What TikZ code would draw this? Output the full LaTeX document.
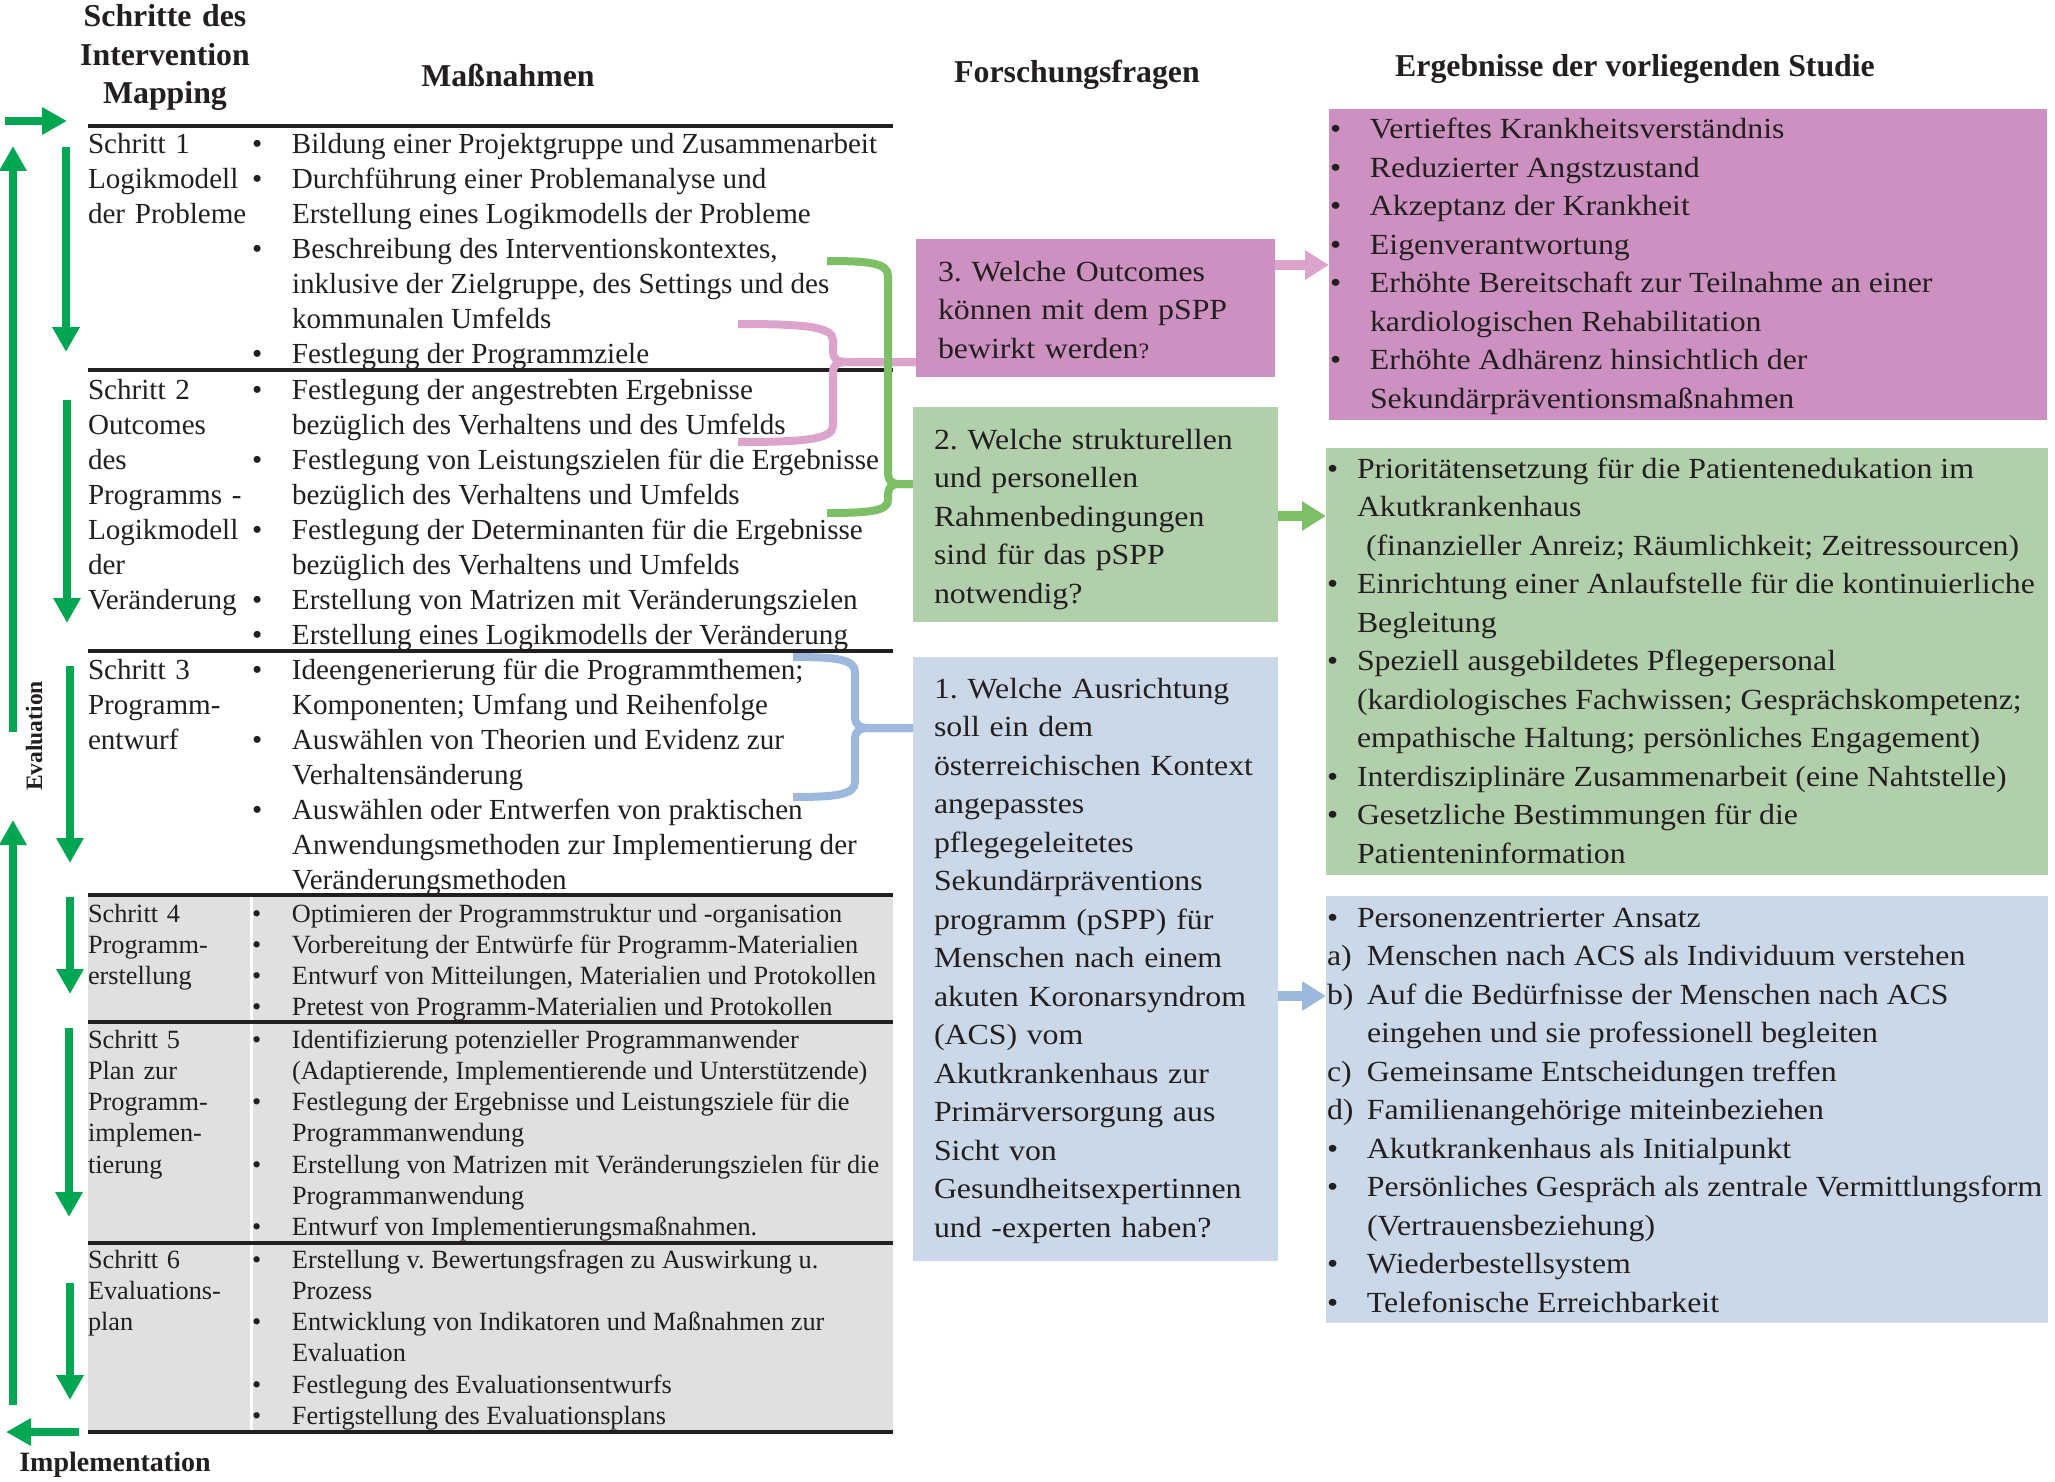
\documentclass[tikz,border=0pt]{standalone}
\usepackage{fontspec}
\setmainfont{Liberation Serif}
\newfontfamily\wideserif[FakeStretch=1.09]{Liberation Serif}
\usetikzlibrary{arrows.meta}
\frenchspacing
\definecolor{agreen}{HTML}{00A651}
\definecolor{bgreen}{HTML}{7CBF66}
\definecolor{bpink}{HTML}{DCA3CB}
\definecolor{bblue}{HTML}{9CB8DC}
\definecolor{fpink}{HTML}{CC91C0}
\definecolor{fgreen}{HTML}{B2CFAC}
\definecolor{fblue}{HTML}{CBD8E8}
\definecolor{fgray}{HTML}{E0E0E0}
\definecolor{txt}{HTML}{231F20}
\newcommand\myBig{\fontsize{29.1}{35}\selectfont}
\newcommand\mySmall{\fontsize{26.3}{31.3}\selectfont}
\newcommand\myRight{\wideserif\fontsize{29.2}{38.5}\selectfont}
\newcommand\myHdr{\bfseries\fontsize{31.8}{38.5}\selectfont}
\newcommand\itm[3]{\par\hangindent=#1\hangafter=1\noindent\makebox[#1][l]{#2}#3}
\newcommand\blk[2]{\begin{minipage}[t]{#1}#2\end{minipage}}
\begin{document}
\begin{tikzpicture}[x=1pt,y=-1pt,
  every node/.style={inner sep=0pt,outer sep=0pt,text=txt},
  hdr/.style={font=\myHdr,anchor=base},
  lab/.style={font=\myBig,anchor=base west,text width=165pt},
  labs/.style={font=\mySmall,anchor=base west,text width=165pt},
  mas/.style={font=\myBig,anchor=base west},
  mass/.style={font=\mySmall,anchor=base west},
  qtext/.style={font=\myRight,anchor=base west,text width=340pt},
  rtext/.style={font=\myRight,anchor=base west},
  box/.style={rectangle,draw=none,anchor=north west},
  rulel/.style={line width=3.5pt,draw=txt},
  garrow/.style={draw=agreen,line width=8pt,-{Triangle[length=25pt,width=26pt]}},
  barrow/.style={line width=10pt,-{Triangle[length=24pt,width=28pt]}},
  brace/.style={line width=8pt}
]
\useasboundingbox (0,0) rectangle (2055,1482);
\fill[white] (0,0) rectangle (2055,1482);

% grey rows
\fill[fgray] (88,895) rectangle (250,1432);
\fill[fgray] (253,895) rectangle (893,1432);
\foreach \yy in {126,370,651,895,1022,1243,1432} \draw[rulel] (88,\yy) -- (893,\yy);

% headers
\node[hdr,text width=240pt,align=center] (hsteps) at (165,27) {Schritte des\\Intervention\\Mapping};
\node[hdr] (hmass) at (508,87) {Maßnahmen};
\node[hdr] (hforsch) at (1077,83) {Forschungsfragen};
\node[hdr] (herg) at (1635,77) {Ergebnisse der vorliegenden Studie};

% table rows
\node[lab] (l1) at (88,154) {Schritt 1\\Logikmodell\\der Probleme};
\node[mas] (m1) at (252,154) {\blk{700pt}{%
\itm{40pt}{•}{Bildung einer Projektgruppe und Zusammenarbeit}%
\itm{40pt}{•}{Durchführung einer Problemanalyse und\\Erstellung eines Logikmodells der Probleme}%
\itm{40pt}{•}{Beschreibung des Interventionskontextes,\\inklusive der Zielgruppe, des Settings und des\\kommunalen Umfelds}%
\itm{40pt}{•}{Festlegung der Programmziele}}};

\node[lab] (l2) at (88,399) {Schritt 2\\Outcomes\\des\\Programms -\\Logikmodell\\der\\Veränderung};
\node[mas] (m2) at (252,399) {\blk{700pt}{%
\itm{40pt}{•}{Festlegung der angestrebten Ergebnisse\\bezüglich des Verhaltens und des Umfelds}%
\itm{40pt}{•}{Festlegung von Leistungszielen für die Ergebnisse\\bezüglich des Verhaltens und Umfelds}%
\itm{40pt}{•}{Festlegung der Determinanten für die Ergebnisse\\bezüglich des Verhaltens und Umfelds}%
\itm{40pt}{•}{Erstellung von Matrizen mit Veränderungszielen}%
\itm{40pt}{•}{Erstellung eines Logikmodells der Veränderung}}};

\node[lab] (l3) at (88,679) {Schritt 3\\Programm-\\entwurf};
\node[mas] (m3) at (252,679) {\blk{700pt}{%
\itm{40pt}{•}{Ideengenerierung für die Programmthemen;\\Komponenten; Umfang und Reihenfolge}%
\itm{40pt}{•}{Auswählen von Theorien und Evidenz zur\\Verhaltensänderung}%
\itm{40pt}{•}{Auswählen oder Entwerfen von praktischen\\Anwendungsmethoden zur Implementierung der\\Veränderungsmethoden}}};

\node[labs] (l4) at (88,922) {Schritt 4\\Programm-\\erstellung};
\node[mass] (m4) at (252,922) {\blk{700pt}{%
\itm{40pt}{•}{Optimieren der Programmstruktur und -organisation}%
\itm{40pt}{•}{Vorbereitung der Entwürfe für Programm-Materialien}%
\itm{40pt}{•}{Entwurf von Mitteilungen, Materialien und Protokollen}%
\itm{40pt}{•}{Pretest von Programm-Materialien und Protokollen}}};

\node[labs] (l5) at (88,1048) {Schritt 5\\Plan zur\\Programm-\\implemen-\\tierung};
\node[mass] (m5) at (252,1048) {\blk{700pt}{%
\itm{40pt}{•}{Identifizierung potenzieller Programmanwender\\(Adaptierende, Implementierende und Unterstützende)}%
\itm{40pt}{•}{Festlegung der Ergebnisse und Leistungsziele für die\\Programmanwendung}%
\itm{40pt}{•}{Erstellung von Matrizen mit Veränderungszielen für die\\Programmanwendung}%
\itm{40pt}{•}{Entwurf von Implementierungsmaßnahmen.}}};

\node[labs] (l6) at (88,1268) {Schritt 6\\Evaluations-\\plan};
\node[mass] (m6) at (252,1268) {\blk{700pt}{%
\itm{40pt}{•}{Erstellung v. Bewertungsfragen zu Auswirkung u.\\Prozess}%
\itm{40pt}{•}{Entwicklung von Indikatoren und Maßnahmen zur\\Evaluation}%
\itm{40pt}{•}{Festlegung des Evaluationsentwurfs}%
\itm{40pt}{•}{Fertigstellung des Evaluationsplans}}};

% left green arrows
\coordinate (tA) at (5,121); \coordinate (tB) at (67,121);
\draw[garrow] (tA) -- (tB);
\coordinate (e1a) at (13,732); \coordinate (e1b) at (13,146);
\draw[garrow] (e1a) -- (e1b);
\coordinate (e2a) at (13,1405); \coordinate (e2b) at (13,820);
\draw[garrow] (e2a) -- (e2b);
\coordinate (ia) at (79,1432); \coordinate (ib) at (6,1432);
\draw[garrow] (ia) -- (ib);
\coordinate (s1a) at (66,147); \coordinate (s1b) at (66,352);
\coordinate (s2a) at (67,400); \coordinate (s2b) at (67,623);
\coordinate (s3a) at (70,666); \coordinate (s3b) at (70,863);
\coordinate (s4a) at (70,897); \coordinate (s4b) at (70,994);
\coordinate (s5a) at (69,1028); \coordinate (s5b) at (69,1217);
\coordinate (s6a) at (70,1283); \coordinate (s6b) at (70,1400);
\foreach \s in {1,...,6} \draw[garrow] (s\s a) -- (s\s b);
\node[font=\bfseries\fontsize{23.5}{28}\selectfont,rotate=90] (evtext) at (34,736) {Evaluation};
\node[font=\bfseries\fontsize{28}{32}\selectfont,anchor=base] (impl) at (115,1471) {Implementation};

% braces (drawn before boxes)
\coordinate (pc) at (916,362);
\coordinate (gc) at (913,484);
\coordinate (bc) at (913,728);
\draw[brace,bpink] (738,324) .. controls (800,324) and (833,326) .. (833,340) -- (833,350) .. controls (833,360) and (836,362) .. (850,362) -- (pc);
\draw[brace,bpink] (738,442) .. controls (800,442) and (833,440) .. (833,426) -- (833,374) .. controls (833,364) and (836,362) .. (850,362) -- (pc);
\draw[brace,bgreen] (827,261) .. controls (870,261) and (888,263) .. (888,276) -- (888,472) .. controls (888,482) and (892,484) .. (900,484) -- (gc);
\draw[brace,bgreen] (827,513) .. controls (870,513) and (888,511) .. (888,500) -- (888,496) .. controls (888,486) and (892,484) .. (900,484) -- (gc);
\draw[brace,bblue] (793,657) .. controls (835,657) and (855,659) .. (855,672) -- (855,716) .. controls (855,726) and (860,728) .. (870,728) -- (bc);
\draw[brace,bblue] (793,797) .. controls (835,797) and (855,795) .. (855,782) -- (855,740) .. controls (855,730) and (860,728) .. (870,728) -- (bc);

% question boxes
\node[box,fill=fpink,minimum width=359pt,minimum height=138pt] (q3) at (916,239) {};
\node[box,fill=fgreen,minimum width=365pt,minimum height=215pt] (q2) at (913,407) {};
\node[box,fill=fblue,minimum width=365pt,minimum height=604pt] (q1) at (913,657) {};
\node[qtext] (t3) at (938,281) {3. Welche Outcomes\\können mit dem pSPP\\bewirkt werden{\fontsize{22}{22}\selectfont ?}};
\node[qtext] (t2) at (934,449) {2. Welche strukturellen\\und personellen\\Rahmenbedingungen\\sind für das pSPP\\notwendig?};
\node[qtext] (t1) at (934,698) {1. Welche Ausrichtung\\soll ein dem\\österreichischen Kontext\\angepasstes\\pflegegeleitetes\\Sekundärpräventions\\programm (pSPP) für\\Menschen nach einem\\akuten Koronarsyndrom\\(ACS) vom\\Akutkrankenhaus zur\\Primärversorgung aus\\Sicht von\\Gesundheitsexpertinnen\\und -experten haben?};

% result boxes
\node[box,fill=fpink,minimum width=718pt,minimum height=311pt] (r3) at (1329,109) {};
\node[box,fill=fgreen,minimum width=722pt,minimum height=427pt] (r2) at (1326,448) {};
\node[box,fill=fblue,minimum width=722pt,minimum height=427pt] (r1) at (1326,896) {};
\node[rtext] (e3) at (1330,139) {\blk{760pt}{%
\itm{40pt}{•}{Vertieftes Krankheitsverständnis}%
\itm{40pt}{•}{Reduzierter Angstzustand}%
\itm{40pt}{•}{Akzeptanz der Krankheit}%
\itm{40pt}{•}{Eigenverantwortung}%
\itm{40pt}{•}{Erhöhte Bereitschaft zur Teilnahme an einer\\kardiologischen Rehabilitation}%
\itm{40pt}{•}{Erhöhte Adhärenz hinsichtlich der\\Sekundärpräventionsmaßnahmen}}};
\node[rtext] (e2) at (1327,478) {\blk{760pt}{%
\itm{30pt}{•}{Prioritätensetzung für die Patientenedukation im\\Akutkrankenhaus\\\hspace*{9pt}(finanzieller Anreiz; Räumlichkeit; Zeitressourcen)}%
\itm{30pt}{•}{Einrichtung einer Anlaufstelle für die kontinuierliche\\Begleitung}%
\itm{30pt}{•}{Speziell ausgebildetes Pflegepersonal\\(kardiologisches Fachwissen; Gesprächskompetenz;\\empathische Haltung; persönliches Engagement)}%
\itm{30pt}{•}{Interdisziplinäre Zusammenarbeit (eine Nahtstelle)}%
\itm{30pt}{•}{Gesetzliche Bestimmungen für die\\Patienteninformation}}};
\node[rtext] (e1) at (1327,927) {\blk{760pt}{%
\itm{30pt}{•}{Personenzentrierter Ansatz}%
\itm{40pt}{a)}{Menschen nach ACS als Individuum verstehen}%
\itm{40pt}{b)}{Auf die Bedürfnisse der Menschen nach ACS\\eingehen und sie professionell begleiten}%
\itm{40pt}{c)}{Gemeinsame Entscheidungen treffen}%
\itm{40pt}{d)}{Familienangehörige miteinbeziehen}%
\itm{40pt}{•}{Akutkrankenhaus als Initialpunkt}%
\itm{40pt}{•}{Persönliches Gespräch als zentrale Vermittlungsform\\(Vertrauensbeziehung)}%
\itm{40pt}{•}{Wiederbestellsystem}%
\itm{40pt}{•}{Telefonische Erreichbarkeit}}};

% block arrows
\coordinate (p3a) at ([yshift=-26pt]q3.north east);
\draw[barrow,bpink] (p3a) -- (p3a -| r3.west);
\coordinate (p2a) at ([yshift=-109pt]q2.north east);
\draw[barrow,bgreen] (p2a) -- (p2a -| r2.west);
\coordinate (p1a) at ([yshift=-339pt]q1.north east);
\draw[barrow,bblue] (p1a) -- (p1a -| r1.west);
\end{tikzpicture}
\end{document}
